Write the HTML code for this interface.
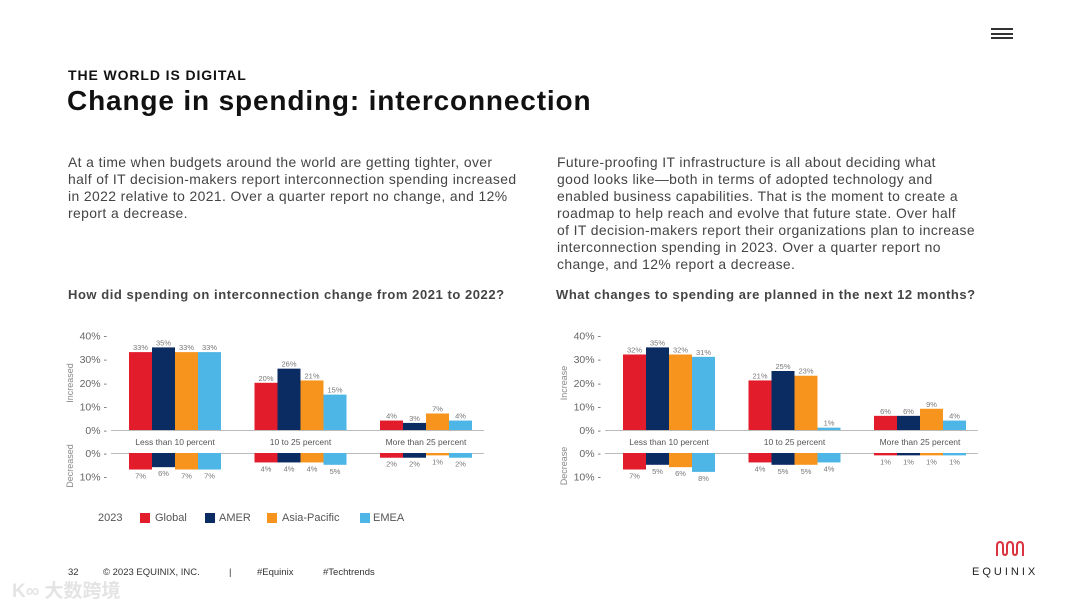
<!DOCTYPE html>
<html><head><meta charset="utf-8"><style>
body{margin:0;width:1080px;height:608px;background:#fff;position:relative;overflow:hidden;font-family:"Liberation Sans","Noto Sans CJK SC",sans-serif;color:#222}
.abs{position:absolute;margin:0}
.p{font-size:13.9px;line-height:17px;color:#444;white-space:nowrap;letter-spacing:0.4px}
.ct{font-size:13px;font-weight:bold;color:#444;letter-spacing:0.55px;white-space:nowrap}
svg text{font-family:"Liberation Sans",sans-serif}
</style></head><body>
<div class="abs" style="left:991px;top:28px;width:22px;height:11px;border-top:2px solid #333;border-bottom:2px solid #333;box-sizing:border-box"><div style="margin-top:2.5px;height:2px;background:#333"></div></div>
<div class="abs" style="left:68px;top:67px;font-size:14px;font-weight:bold;color:#111;letter-spacing:0.9px">THE WORLD IS DIGITAL</div>
<h1 class="abs" style="left:67px;top:85px;font-size:28px;font-weight:bold;color:#111;letter-spacing:0.85px;white-space:nowrap">Change in spending: interconnection</h1>
<p class="abs p" style="left:68px;top:154px">At a time when budgets around the world are getting tighter, over<br>half of IT decision-makers report interconnection spending increased<br>in 2022 relative to 2021. Over a quarter report no change, and 12%<br>report a decrease.</p>
<p class="abs p" style="left:557px;top:154px">Future-proofing IT infrastructure is all about deciding what<br>good looks like—both in terms of adopted technology and<br>enabled business capabilities. That is the moment to create a<br>roadmap to help reach and evolve that future state. Over half<br>of IT decision-makers report their organizations plan to increase<br>interconnection spending in 2023. Over a quarter report no<br>change, and 12% report a decrease.</p>
<div class="abs ct" style="left:68px;top:287px">How did spending on interconnection change from 2021 to 2022?</div>
<div class="abs ct" style="left:556px;top:287px">What changes to spending are planned in the next 12 months?</div>
<svg id="chart" class="abs" style="left:0;top:0" width="1080" height="608"></svg>
<div class="abs" style="left:98px;top:512px;font-size:11px;color:#555;white-space:nowrap">
<span style="position:absolute;left:0">2023</span>
<span style="position:absolute;left:42px;top:1px;width:10px;height:10px;background:#e21c2b"></span><span style="position:absolute;left:57px">Global</span>
<span style="position:absolute;left:107px;top:1px;width:10px;height:10px;background:#0b2b63"></span><span style="position:absolute;left:121px">AMER</span>
<span style="position:absolute;left:169px;top:1px;width:10px;height:10px;background:#f7941d"></span><span style="position:absolute;left:184px">Asia-Pacific</span>
<span style="position:absolute;left:262px;top:1px;width:10px;height:10px;background:#4db6e6"></span><span style="position:absolute;left:275px">EMEA</span>
</div>
<div class="abs" style="left:68px;top:567px;font-size:9.5px;color:#333;white-space:nowrap">
<span style="position:absolute;left:0">32</span><span style="position:absolute;left:35px">© 2023 EQUINIX, INC.</span><span style="position:absolute;left:161px">|</span><span style="position:absolute;left:189px">#Equinix</span><span style="position:absolute;left:255px">#Techtrends</span></div>
<div class="abs" style="left:12px;top:576px;font-size:19px;color:#e4e4e4;font-weight:bold">K∞ 大数跨境</div>
<svg class="abs" style="left:995px;top:540px" width="36" height="18"><path d="M2 16V6q0-4 3-4t3 4v6q0 3 2 3t2-3V6q0-4 3-4t3 4v6q0 3 2 3t2-3V6q0-4 3-4t3 4v10" fill="none" stroke="#d9343f" stroke-width="2"/></svg>
<div class="abs" style="left:972px;top:566px;font-size:11px;letter-spacing:3px;color:#222">EQUINIX</div>
<script>
const categories=["Less than 10 percent","10 to 25 percent","More than 25 percent"];
const seriesNames=["Global","AMER","Asia-Pacific","EMEA"];
const colors=["#e21c2b","#0b2b63","#f7941d","#4db6e6"];
const leftIncrease=[[33,35,33,33],[20,26,21,15],[4,3,7,4]];
const leftDecrease=[[7,6,7,7],[4,4,4,5],[2,2,1,2]];
const rightIncrease=[[32,35,32,31],[21,25,23,1],[6,6,9,4]];
const rightDecrease=[[7,5,6,8],[4,5,5,4],[1,1,1,1]];
const incTicks=[0,10,20,30,40];
const decTicks=[0,10];
const svg=document.getElementById('chart');
const NS='http://www.w3.org/2000/svg';
function mk(t,a,txt){const e=document.createElementNS(NS,t);for(const k in a)e.setAttribute(k,a[k]);if(txt!==undefined)e.textContent=txt;svg.appendChild(e);return e;}
const pxPer=2.36;
const yInc=v=>430-v*pxPer;
const yDec=v=>453+v*pxPer;
function draw(ox,inc,dec,yl1,yl2){
  const axL=ox-18,axR=ox+355;
  incTicks.forEach(t=>{const e=mk('text',{x:ox-22,y:yInc(t)+4,'text-anchor':'end','font-size':10.5,fill:'#666'},t+'% -');});
  decTicks.forEach(t=>{const e=mk('text',{x:ox-22,y:yDec(t)+4,'text-anchor':'end','font-size':10.5,fill:'#666'},t+'% -');});
  let e=mk('line',{x1:axL,x2:axR,y1:430.5,y2:430.5,stroke:'#bbb'});
  e=mk('line',{x1:axL,x2:axR,y1:453.5,y2:453.5,stroke:'#bbb'});
  e=mk('text',{transform:`translate(${ox-56},383) rotate(-90)`,'text-anchor':'middle','font-size':9,fill:'#888'},yl1);
  e=mk('text',{transform:`translate(${ox-56},466) rotate(-90)`,'text-anchor':'middle','font-size':9,fill:'#888'},yl2);
  categories.forEach((c,gi)=>{
    const gx=ox+gi*125.5;
    e=mk('text',{x:gx+46,y:445,'text-anchor':'middle','font-size':8.5,fill:'#555'},c);
    seriesNames.forEach((s,si)=>{
      const x=gx+si*23,v=inc[gi][si],d=dec[gi][si];
      let b=mk('rect',{x:x,y:yInc(v),width:23,height:v*pxPer,fill:colors[si]});
      b=mk('text',{x:x+11.5,y:yInc(v)-2,'text-anchor':'middle','font-size':7.5,fill:'#777'},v+'%');
      b=mk('rect',{x:x,y:453,width:23,height:d*pxPer,fill:colors[si]});
      b=mk('text',{x:x+11.5,y:yDec(d)+9,'text-anchor':'middle','font-size':7.5,fill:'#777'},d+'%');
    });
  });
}
draw(129,leftIncrease,leftDecrease,'Increased','Decreased');
draw(623,rightIncrease,rightDecrease,'Increase','Decrease');
</script>
</body></html>
